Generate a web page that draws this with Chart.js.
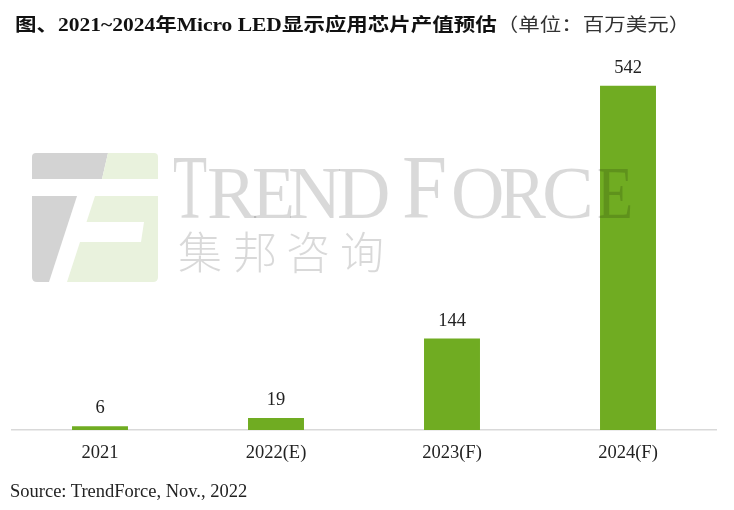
<!DOCTYPE html>
<html>
<head>
<meta charset="utf-8">
<script src="https://cdn.jsdelivr.net/npm/chart.js@4.4.0/dist/chart.umd.min.js"></script>
<style>
  html, body { margin:0; padding:0; background:#fff; }
  #wrap { position:relative; width:734px; height:510px; overflow:hidden; background:#fff; }
  #c { position:absolute; left:0; top:0; }
  .abs { position:absolute; white-space:nowrap; }
  #title { left:15px; top:11px; font-size:18.5px; line-height:24px; color:#111; transform-origin:left center; }
  #title .b { font-family:"Liberation Serif","Noto Sans CJK SC",serif; font-weight:bold; }
  #title .u { font-family:"Noto Sans CJK SC",sans-serif; font-weight:normal; color:#333; }
  #source { left:10px; top:479px; font-family:"Liberation Serif",serif; font-size:18.5px; line-height:24px; color:#222; }
  .wm { position:absolute; font-family:"Liberation Serif",serif; color:rgba(0,0,0,0.15); line-height:1; pointer-events:none; }
  .wmc { position:absolute; font-family:"Noto Sans CJK SC",sans-serif; font-weight:300; font-size:44px; color:rgba(0,0,0,0.15); line-height:1; }
  #logo { position:absolute; left:0; top:0; }
</style>
</head>
<body>
<div id="wrap">
  <svg id="logo" width="734" height="510">
    <path d="M36,153 L108,153 L102,179 L32,179 L32,157 Q32,153 36,153 Z" fill="#d3d3d3"/>
    <path d="M108,153 L154,153 Q158,153 158,157 L158,179 L102,179 Z" fill="#e9f2dd"/>
    <path d="M32,196 L77,196 L49,282 L37,282 Q32,282 32,277 Z" fill="#d3d3d3"/>
    <path d="M95,196 L158,196 L158,277 Q158,282 153,282 L67,282 L80,242 L141,242 L144,222 L86.5,222 Z" fill="#e9f2dd"/>
  </svg>
  <canvas id="c" width="734" height="510"></canvas>
  <div id="title" class="abs"><span class="b">图、2021~2024年Micro LED显示应用芯片产值预估</span><span class="u">（单位：百万美元）</span></div>
  <div id="source" class="abs">Source: TrendForce, Nov., 2022</div>
  <div id="wmtext"></div>
</div>
<script>
const categories = ['2021', '2022(E)', '2023(F)', '2024(F)'];
const values = [6, 19, 144, 542];
const barColor = '#70ac22';

// stretch title horizontally like the reference
const titleEl = document.getElementById('title');
const tw = titleEl.offsetWidth;
if (tw > 0) titleEl.style.transform = 'scaleX(' + (675 / tw) + ')';

// watermark letters (decoration)
const wmLetters = [
  ['T', 173, 90, 0.62], ['R', 207, 74, 1], ['E', 252, 74, 0.95], ['N', 288, 74, 1], ['D', 337, 74, 1],
  ['F', 402, 90, 0.9], ['O', 451, 74, 1], ['R', 499, 74, 0.95], ['C', 542, 74, 1.05], ['E', 597, 74, 0.8]
];
const wmBox = document.getElementById('wmtext');
wmLetters.forEach(([ch, x, size, sx]) => {
  const s = document.createElement('div');
  s.className = 'wm';
  s.textContent = ch;
  s.style.fontSize = size + 'px';
  s.style.left = x + 'px';
  s.style.top = (220 - size * 0.86) + 'px';
  s.style.transformOrigin = 'left center';
  s.style.transform = 'scaleX(' + sx + ')';
  wmBox.appendChild(s);
});
const wmCn = ['集', '邦', '咨', '询'];
const wmCnX = [180, 235, 288, 342];
wmCn.forEach((ch, i) => {
  const s = document.createElement('div');
  s.className = 'wmc';
  s.textContent = ch;
  s.style.left = (wmCnX[i] - 2) + 'px';
  s.style.top = '228px';
  wmBox.appendChild(s);
});

const valueLabels = {
  id: 'valueLabels',
  afterDatasetsDraw(chart) {
    const ctx = chart.ctx;
    const meta = chart.getDatasetMeta(0);
    const data = chart.data.datasets[0].data;
    ctx.save();
    ctx.font = '18.5px "Liberation Serif", serif';
    ctx.fillStyle = '#222';
    ctx.textAlign = 'center';
    ctx.textBaseline = 'alphabetic';
    meta.data.forEach((bar, i) => {
      ctx.fillText(String(data[i]), bar.x, bar.y - 13);
    });
    ctx.restore();
  }
};

new Chart(document.getElementById('c'), {
  type: 'bar',
  data: {
    labels: categories,
    datasets: [{
      data: values,
      backgroundColor: barColor,
      borderWidth: 0,
      categoryPercentage: 1,
      barPercentage: 0.318
    }]
  },
  options: {
    responsive: false,
    animation: false,
    layout: { padding: { left: 12, right: 18, top: 49, bottom: 0 } },
    plugins: { legend: { display: false }, tooltip: { enabled: false } },
    scales: {
      x: {
        grid: { display: false, drawTicks: false },
        border: { display: true, color: '#d9d9d9', width: 1.5 },
        ticks: { color: '#222', padding: 12, font: { family: '"Liberation Serif", serif', size: 18.5 } },
        afterFit: (s) => { s.height = 80; }
      },
      y: { display: false, min: 0, max: 600 }
    }
  },
  plugins: [valueLabels]
});
</script>
</body>
</html>
